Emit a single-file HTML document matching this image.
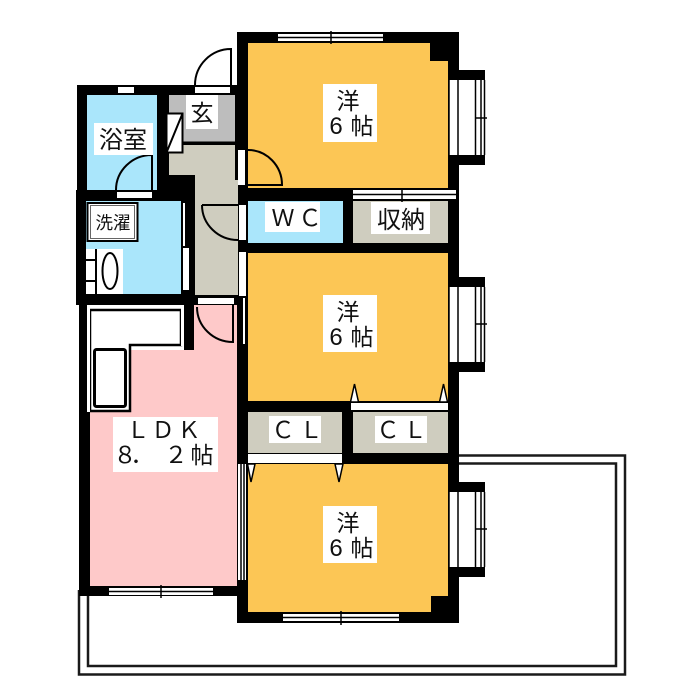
<!DOCTYPE html>
<html><head><meta charset="utf-8"><style>
html,body{margin:0;padding:0;background:#fff}
svg{display:block}
text{font-family:"Liberation Sans","Noto Sans CJK JP",sans-serif;fill:#111;text-anchor:middle}
</style></head><body>
<svg width="700" height="700" viewBox="0 0 700 700">
<!-- balcony -->
<path d="M79 590V674.500H625V455.500H450M88 590V666H616V463.500H450" fill="none" stroke="#1a1a1a" stroke-width="2.500"/>
<!-- wall masses -->
<g fill="#000">
<rect x="77" y="85" width="160" height="105"/>
<rect x="76" y="190" width="119" height="115"/>
<rect x="195" y="295" width="43" height="10"/>
<rect x="79" y="305" width="11" height="291"/>
<rect x="79" y="586" width="170" height="10"/>
<rect x="184" y="305" width="10" height="45"/>
<rect x="237" y="32" width="222" height="591"/>
<rect x="459" y="70" width="26" height="10"/><rect x="448" y="155" width="37" height="10"/>
<rect x="459" y="277" width="26" height="10"/><rect x="448" y="362" width="37" height="10"/>
<rect x="459" y="482" width="26" height="10"/><rect x="448" y="567" width="37" height="10"/>
</g>
<!-- rooms -->
<path d="M248 43H430V61H448V188H248Z" fill="#fcc655"/>
<rect x="248" y="253" width="200" height="148" fill="#fcc655"/>
<path d="M248 464H448V596H431V612H248Z" fill="#fcc655"/>
<rect x="248" y="201" width="95" height="42" fill="#aae6fb"/>
<rect x="353" y="201" width="95" height="42" fill="#cfcdbf"/>
<rect x="248" y="412" width="94" height="41" fill="#cfcdbf"/>
<rect x="353" y="412" width="95" height="41" fill="#cfcdbf"/>
<rect x="87" y="95" width="70" height="95" fill="#aae6fb"/>
<rect x="86" y="201" width="95" height="93" fill="#aae6fb"/>
<rect x="169" y="95" width="66" height="48" fill="#bdbdbd"/>
<path d="M169 145H235V180H238V295H195V175H169Z" fill="#cfcdbf"/>
<path d="M195 305H237V586H90V412H130V350H184V350H194V305Z" fill="#fec9c9"/>
<!-- kitchen -->
<path d="M90 310H181V345H130V411H90Z" fill="#fff" stroke="#000" stroke-width="2.500"/>
<rect x="87" y="305" width="3" height="107" fill="#fff"/>
<rect x="94.500" y="349.500" width="31" height="57" rx="2" fill="#fff" stroke="#000" stroke-width="3"/>
<rect x="181" y="308" width="3" height="38" fill="#fff"/>
<!-- laundry pan / washbasin -->
<rect x="87.500" y="203" width="50" height="38" fill="#fff" stroke="#000" stroke-width="2"/>
<rect x="90.500" y="205.500" width="44" height="33" fill="#fff" stroke="#666" stroke-width="1"/>
<rect x="86" y="249" width="37" height="45" fill="#fff"/>
<path d="M86 260H96M86 281H96M96 249V294" stroke="#000" stroke-width="2" fill="none"/>
<ellipse cx="110" cy="271" rx="7.500" ry="18" fill="#fff" stroke="#000" stroke-width="2"/>
<!-- shoe closet + hall line -->
<rect x="166.500" y="113.500" width="16" height="39" fill="#fff" stroke="#000" stroke-width="2"/>
<path d="M166.500 152.500L182.500 113.500M183 142.500H235" stroke="#000" stroke-width="2" fill="none"/>
<!-- wall openings -->
<g fill="#fff">
<rect x="118" y="87" width="16" height="6"/>
<rect x="195" y="87" width="35" height="6"/>
<rect x="117" y="192" width="35" height="6"/>
<rect x="183" y="203" width="2" height="43"/>
<rect x="183" y="248" width="6" height="42"/>
<rect x="198" y="298" width="36" height="6"/>
<rect x="238" y="150" width="7" height="35"/>
<rect x="239" y="205" width="7" height="35"/>
<rect x="239" y="252" width="7" height="44"/>
<rect x="243" y="298" width="2" height="46"/>
<rect x="248" y="454" width="94" height="9"/>
<rect x="351" y="403" width="97" height="7"/>
<rect x="353" y="190" width="103" height="9"/>
<rect x="238" y="464" width="8" height="116"/>
<rect x="278" y="34" width="105" height="7"/>
<rect x="109" y="588" width="104" height="7"/>
<rect x="283" y="614" width="116" height="7"/>
</g>
<!-- sliding lines -->
<g stroke="#000" fill="none" stroke-width="1.500">
<path d="M278 37.500H383M331 31V44M329 37.500H333"/>
<path d="M109 591.500H213M161 585V598"/>
<path d="M283 617.500H399M341 611V625"/>
<path d="M353 194.500H456M402 188V203"/>
<path d="M241 464V580M244 464V580"/>
</g>
<!-- bays -->
<g fill="#fff" stroke="none">
<rect x="449" y="80" width="36" height="75"/>
<rect x="449" y="287" width="36" height="75"/>
<rect x="449" y="492" width="36" height="75"/>
</g>
<g stroke="#000" fill="none">
<path d="M458 80V155M475.500 80V155M481 80V155M484.500 80V155M449 80V155" stroke-width="1.500"/>
<path d="M476 118H487" stroke-width="1.500"/>
<path d="M458 287V362M475.500 287V362M481 287V362M484.500 287V362M449 287V362" stroke-width="1.500"/>
<path d="M476 324H487" stroke-width="1.500"/>
<path d="M458 492V567M475.500 492V567M481 492V567M484.500 492V567M449 492V567" stroke-width="1.500"/>
<path d="M476 529H487" stroke-width="1.500"/>
</g>
<!-- closet markers -->
<g fill="#fff" stroke="#000" stroke-width="1.500">
<path d="M354.500 384L350.500 402H358.500Z"/>
<path d="M443.500 384L439.500 402H447.500Z"/>
<path d="M251 482L247.500 464H255Z"/>
<path d="M339 482L335 464H343Z"/>
</g>
<!-- doors -->
<g fill="none" stroke="#000" stroke-width="2">
<path d="M195 85A36 36 0 0 1 231 49V85"/>
<path d="M116 190A36 35 0 0 1 152 155V190"/>
<path d="M248 150A34 35 0 0 1 282 185H248"/>
<path d="M202 205A36 35 0 0 0 238 240"/>
<path d="M202 205H238"/>
<path d="M197 307A36 35 0 0 0 233 342V305"/>
</g>
<!-- label backgrounds -->
<g fill="#fff">
<rect x="323" y="84" width="54" height="58"/>
<rect x="323" y="295" width="54" height="57"/>
<rect x="323" y="506" width="54" height="57"/>
<rect x="265" y="202" width="55" height="30"/>
<rect x="371" y="202" width="59" height="32"/>
<rect x="269" y="416" width="52" height="27"/>
<rect x="375" y="416" width="52" height="27"/>
<rect x="113" y="417" width="105" height="55"/>
<rect x="94" y="123" width="59" height="32"/>
<rect x="186" y="95" width="32" height="34"/>
</g>
<!-- labels -->
<g font-size="23">
<text x="348" y="109">洋</text>
<text x="336" y="134" font-size="24">6</text><text x="362" y="134">帖</text>
<text x="348" y="320">洋</text>
<text x="336" y="345" font-size="24">6</text><text x="362" y="345">帖</text>
<text x="348" y="531">洋</text>
<text x="336" y="556" font-size="24">6</text><text x="362" y="556">帖</text>
<text x="283" y="226">Ｗ</text><text x="310" y="226">Ｃ</text>
<text x="401" y="228" font-size="24">収納</text>
<text x="283" y="438">Ｃ</text><text x="311" y="438">Ｌ</text>
<text x="388" y="438">Ｃ</text><text x="415" y="438">Ｌ</text>
<text x="138" y="438">Ｌ</text><text x="163" y="438">Ｄ</text><text x="189" y="438">Ｋ</text>
<text x="125" y="463">８</text><text x="142" y="463">．</text><text x="176" y="463">２</text><text x="202" y="463">帖</text>
<text x="123" y="148" font-size="24">浴室</text>
<text x="202" y="121">玄</text>
</g>
<text x="113" y="229" font-size="17.500">洗濯</text>
</svg>
</body></html>
